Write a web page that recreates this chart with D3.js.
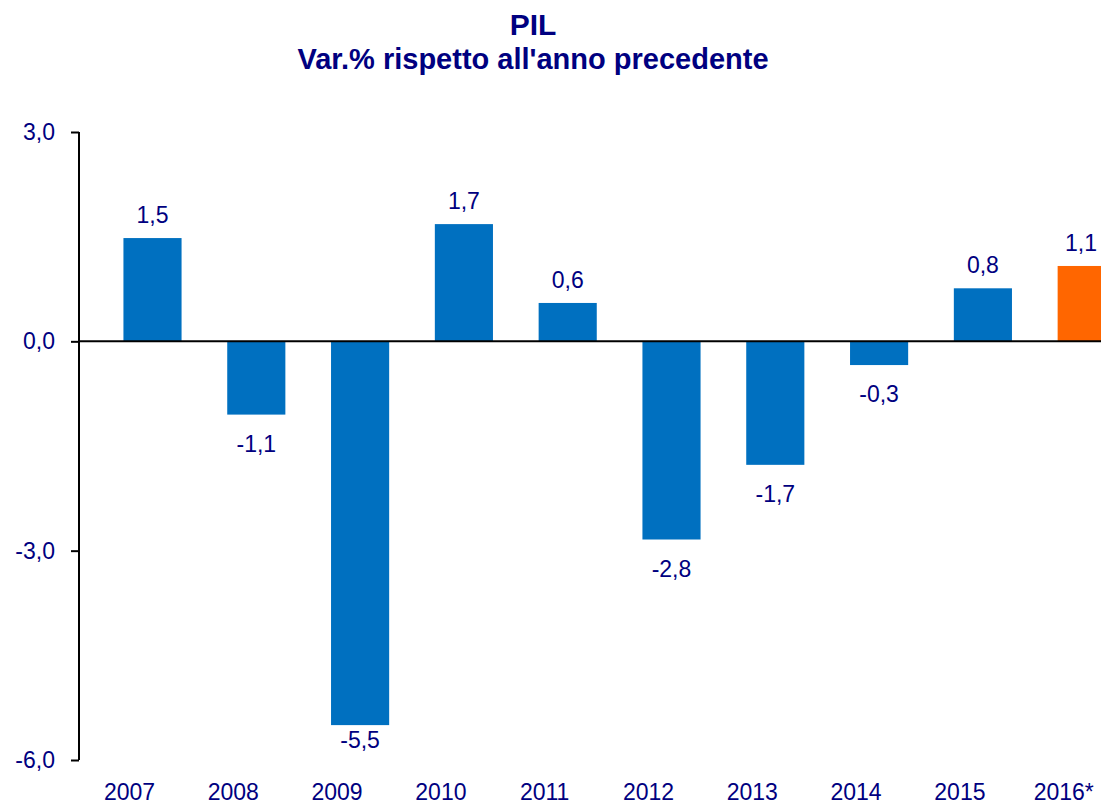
<!DOCTYPE html>
<html>
<head>
<meta charset="utf-8">
<script src="https://cdn.jsdelivr.net/npm/d3@7"></script>
<style>
  body { margin: 0; background: #fff; }
  svg { display: block; font-family: "Liberation Sans", Arial, sans-serif; }
</style>
</head>
<body>
<svg id="chart" width="1101" height="804"></svg>
<script>
const years = ["2007", "2008", "2009", "2010", "2011", "2012", "2013", "2014", "2015", "2016*"];
const values = [1.48, -1.05, -5.5, 1.68, 0.55, -2.84, -1.77, -0.34, 0.76, 1.08];
const valueLabels = ["1,5", "-1,1", "-5,5", "1,7", "0,6", "-2,8", "-1,7", "-0,3", "0,8", "1,1"];
const yTicks = [3, 0, -3, -6];
const titleLines = ["PIL", "Var.% rispetto all'anno precedente"];

const navy = "#000080";
const svg = d3.select("#chart");

const x = d3.scaleBand()
  .domain(years)
  .range([100.6, 1138.6])
  .paddingInner(0.44)
  .paddingOuter(0.22);

const y = d3.scaleLinear()
  .domain([-6, 3])
  .range([760, 132]);

// title
svg.selectAll("text.title")
  .data(titleLines)
  .join("text")
    .attr("class", "title")
    .attr("x", 533)
    .attr("y", (d, i) => i == 0 ? 35 : 69)
    .attr("text-anchor", "middle")
    .attr("font-weight", "bold")
    .attr("font-size", (d, i) => i == 0 ? 30 : 29)
    .attr("fill", navy)
    .text(d => d);

// bars
svg.selectAll("rect.bar")
  .data(values)
  .join("rect")
    .attr("class", "bar")
    .attr("x", (d, i) => x(years[i]))
    .attr("width", x.bandwidth())
    .attr("y", d => y(Math.max(0, d)))
    .attr("height", d => Math.abs(y(d) - y(0)))
    .attr("fill", (d, i) => i == years.length - 1 ? "#FF6600" : "#0070C0");

// value labels
svg.selectAll("text.val")
  .data(values)
  .join("text")
    .attr("class", "val")
    .attr("x", (d, i) => Math.min(x(years[i]) + x.bandwidth() / 2, 1081))
    .attr("y", d => d >= 0 ? y(d) - 15 : Math.min(y(d) + 37, 748))
    .attr("text-anchor", "middle")
    .attr("font-size", 23)
    .attr("fill", navy)
    .text((d, i) => valueLabels[i]);

// zero line
svg.append("line")
  .attr("x1", 79).attr("x2", 1101)
  .attr("y1", y(0)).attr("y2", y(0))
  .attr("stroke", "#000")
  .attr("stroke-width", 2);

// y axis
const yAxis = d3.axisLeft(y)
  .tickValues(yTicks)
  .tickSize(8)
  .tickPadding(16)
  .tickFormat(d => d3.format(".1f")(d).replace(".", ",").replace("−", "-"));

svg.append("g")
  .attr("transform", "translate(79,0)")
  .call(yAxis)
  .call(g => g.select(".domain").attr("stroke", "#000").attr("stroke-width", 2)
    .attr("d", `M0,${y(3)}V${y(-6)}`))
  .call(g => g.selectAll(".tick line").attr("stroke", "#000").attr("stroke-width", 2))
  .call(g => g.selectAll(".tick text")
    .attr("font-size", 23)
    .attr("fill", navy)
    .attr("font-family", "Liberation Sans, Arial, sans-serif"));

// category labels (sit a bit left of the bars, as in the original)
svg.selectAll("text.year")
  .data(years)
  .join("text")
    .attr("class", "year")
    .attr("x", d => x(d) + x.bandwidth() / 2 - 23)
    .attr("y", 800)
    .attr("text-anchor", "middle")
    .attr("font-size", 23)
    .attr("fill", navy)
    .text(d => d);
</script>
</body>
</html>
